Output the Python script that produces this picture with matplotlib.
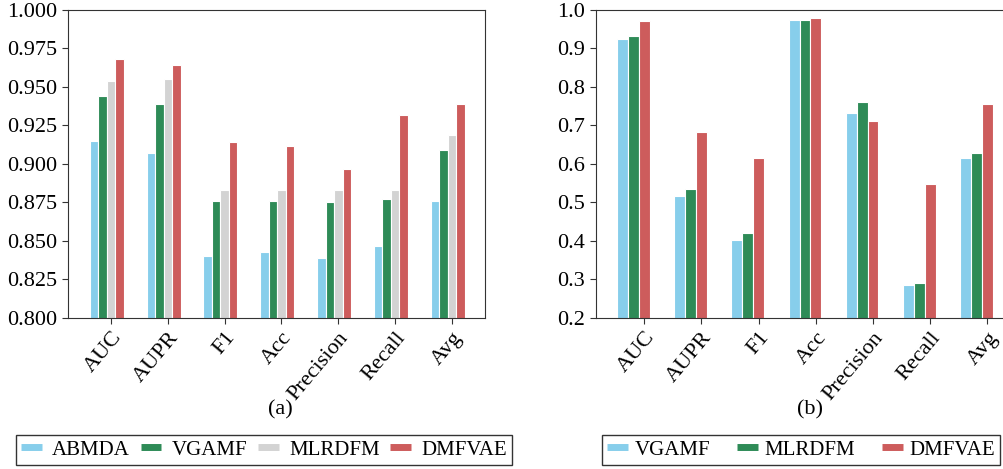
import numpy as np
import matplotlib
matplotlib.use("Agg")
import matplotlib.pyplot as plt
from matplotlib.lines import Line2D

plt.rcParams['font.family'] = ['Liberation Serif', 'DejaVu Serif']

metrics = ['AUC', 'AUPR', 'F1', 'Acc', 'Precision', 'Recall', 'Avg']

# panel (a)
abmda_a = [0.915, 0.907, 0.840, 0.843, 0.839, 0.847, 0.876]
vgamf_a = [0.944, 0.939, 0.876, 0.876, 0.875, 0.877, 0.909]
mlrdfm_a = [0.954, 0.955, 0.883, 0.883, 0.883, 0.883, 0.919]
dmfvae_a = [0.968, 0.964, 0.914, 0.912, 0.897, 0.932, 0.939]

# panel (b)
vgamf_b = [0.925, 0.518, 0.402, 0.975, 0.732, 0.285, 0.616]
mlrdfm_b = [0.933, 0.536, 0.422, 0.975, 0.762, 0.291, 0.629]
dmfvae_b = [0.971, 0.683, 0.616, 0.980, 0.712, 0.549, 0.757]

colors = ['#87CEEB', '#2E8B57', '#D3D3D3', '#CD5C5C']
x = np.arange(len(metrics))

fig = plt.figure(figsize=(10.04, 4.69), dpi=100)
ax1 = fig.add_axes([0.0677, 0.322, 0.4153, 0.6567])
ax2 = fig.add_axes([0.5933, 0.322, 0.43, 0.6567])

w = 0.15
for i, vals in enumerate([abmda_a, vgamf_a, mlrdfm_a, dmfvae_a]):
    ax1.bar(x + (i - 2) * w, vals, width=w, color=colors[i], edgecolor='white', linewidth=0.8)
ax1.set_ylim(0.8, 1.0)
ax1.set_yticks(np.arange(0.8, 1.0001, 0.025))
ax1.set_yticklabels(['%.3f' % v for v in np.arange(0.8, 1.0001, 0.025)])
ax1.set_xlim(-0.757, 6.58)

w2 = 0.19
for i, vals in enumerate([vgamf_b, mlrdfm_b, dmfvae_b]):
    ax2.bar(x + (i - 2) * w2, vals, width=w2, color=colors[[0, 1, 3][i]], edgecolor='white', linewidth=0.8)
ax2.set_ylim(0.2, 1.0)
ax2.set_yticks(np.arange(0.2, 1.0001, 0.1))
ax2.set_yticklabels(['%.1f' % v for v in np.arange(0.2, 1.0001, 0.1)])
ax2.set_xlim(-0.85, 6.70)
ax2.spines['right'].set_visible(False)

for ax in [ax1, ax2]:
    ax.set_xticks(x)
    ax.set_xticklabels(metrics, rotation=50, ha='right', rotation_mode='anchor')
    ax.tick_params(axis='x', labelsize=16, length=4, color='#333333')
    ax.tick_params(axis='y', labelsize=16, length=4, color='#333333')
    for s in ax.spines.values():
        s.set_color('#333333')

fig.text(280 / 1004, 1 - 410 / 469, '(a)', ha='center', va='center', fontsize=16)
fig.text(810 / 1004, 1 - 410 / 469, '(b)', ha='center', va='center', fontsize=16)

def handles(cols):
    return [Line2D([], [], color=c, lw=5, solid_capstyle='butt') for c in cols]

leg1 = fig.legend(handles(colors), ['ABMDA', 'VGAMF', 'MLRDFM', 'DMFVAE'],
                  loc='center', bbox_to_anchor=(264 / 1004, 1 - 450 / 469), ncol=4,
                  fancybox=False, edgecolor='black', fontsize=15, handlelength=1.0,
                  columnspacing=0.5, handletextpad=0.5, borderpad=0.25)
leg1.get_frame().set_linewidth(1.0)
leg2 = fig.legend(handles([colors[0], colors[1], colors[3]]), ['VGAMF', 'MLRDFM', 'DMFVAE'],
                  loc='center', bbox_to_anchor=(801 / 1004, 1 - 450 / 469), ncol=3,
                  fancybox=False, edgecolor='black', fontsize=15, handlelength=1.0,
                  columnspacing=1.3, handletextpad=0.3, borderpad=0.25)
leg2.get_frame().set_linewidth(1.0)

fig.savefig('out.png', dpi=100)
